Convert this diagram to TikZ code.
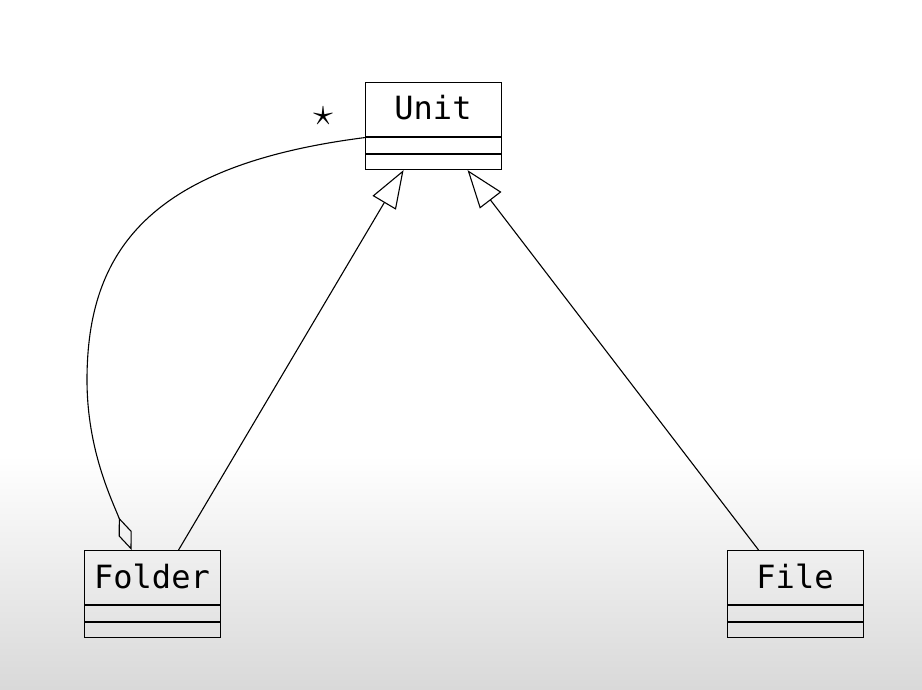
\documentclass[tikz,border=0pt]{standalone}
\usepackage{fontspec}
\setmonofont{DejaVu Sans Mono}
\usetikzlibrary{arrows.meta}
\begin{document}
\begin{tikzpicture}[x=1pt,y=-1pt,line width=1.1pt,
  classbox/.style={draw,line width=1.1pt,minimum width=136pt,minimum height=87pt,inner sep=0pt,anchor=north west},
  classname/.style={font=\ttfamily\fontsize{32}{36}\selectfont,inner sep=0pt,anchor=center},
  inherit/.style={-{Triangle[open,length=38pt,width=27pt]}},
  agg/.style={-{Diamond[open,length=35pt,width=14pt]}}]
\useasboundingbox (0,0) rectangle (922,690);
\fill[white] (0,0) rectangle (922,690);
\shade[top color=white,bottom color=black!15] (0,455) rectangle (922,690);
% classes
\node[classbox] (unit) at (365,82) {};
\node[classbox] (folder) at (84,550) {};
\node[classbox] (file) at (727,550) {};
\foreach \c in {unit,folder,file}{
  \draw ([yshift=-55pt]\c.north west) -- ([yshift=-55pt]\c.north east);
  \draw ([yshift=-72pt]\c.north west) -- ([yshift=-72pt]\c.north east);
}
\node[classname] (unitname) at (433,108) {Unit};
\node[classname] (foldername) at (152,576) {Folder};
\node[classname] (filename) at (795,576) {File};
% connectors
\draw[inherit] ([xshift=26pt]folder.north) -- ([xshift=-30pt]unit.south);
\draw[inherit] ([xshift=-37pt]file.north) -- ([xshift=34pt]unit.south);
\coordinate (bend) at (87,380);
\draw[agg] ([yshift=-11.5pt]unit.west) .. controls (150,165) and (87,250) .. (bend)
  .. controls (87,450) and (112,500) .. ([xshift=-21pt]folder.north);
\node[inner sep=0pt] (mult) at (323,116) {\scalebox{1.6}{\fontsize{26}{30}\selectfont$\star$}};
\end{tikzpicture}
\end{document}
